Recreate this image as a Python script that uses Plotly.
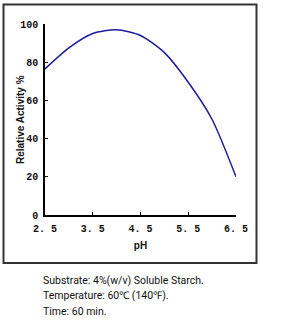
import plotly.graph_objects as go

ph = [2.5, 3.0, 3.5, 4.0, 4.5, 5.0, 5.5, 6.0, 6.5]
activity = [76.5, 87.5, 95, 97, 94, 85, 69.5, 50, 20]
x_ticks = [2.5, 3.5, 4.5, 5.5, 6.5]
x_tick_labels = ["2. 5", "3. 5", "4. 5", "5. 5", "6. 5"]
y_ticks = [0, 20, 40, 60, 80, 100]
notes = ["Substrate: 4%(w/v) Soluble Starch.",
         "Temperature: 60℃ (140℉).",
         "Time: 60 min."]

W, H = 281, 327
fig = go.Figure()
fig.add_trace(go.Scatter(x=ph, y=activity, mode="lines",
                         line=dict(color="#1c1c9c", width=1.5, shape="spline", smoothing=0.7),
                         showlegend=False, hoverinfo="skip"))

tf = dict(family="Liberation Mono", size=10, color="#111", weight="bold")
fig.update_layout(
    width=W, height=H, margin=dict(l=0, r=0, t=0, b=0, autoexpand=False),
    paper_bgcolor="white", plot_bgcolor="white",
    xaxis=dict(domain=[45/W, 236/W], range=[2.5, 6.5], tickvals=x_ticks, ticktext=x_tick_labels,
               showline=True, linecolor="black", linewidth=1.5, ticks="inside", ticklen=3,
               tickcolor="black", showgrid=False, zeroline=False, tickfont=tf, automargin=False,
               ticklabelstandoff=3,
               title=dict(text="<b>pH</b>", font=dict(family="Liberation Sans", size=10, color="#111"), standoff=8)),
    yaxis=dict(domain=[(H-215)/H, (H-24)/H], range=[0, 100], tickvals=y_ticks,
               showline=True, linecolor="black", linewidth=1.5, ticks="inside", ticklen=3,
               tickcolor="black", showgrid=False, zeroline=False, tickfont=tf, automargin=False,
               ticklabelstandoff=3),
)

fig.add_annotation(text="<b>Relative Activity %</b>", xref="paper", yref="paper",
                   x=20/W, y=(H-120)/H, textangle=-90, showarrow=False,
                   xanchor="center", yanchor="middle",
                   font=dict(family="Liberation Sans", size=10, color="#111"))

fig.add_shape(type="rect", xref="paper", yref="paper",
              x0=3.5/W, x1=256.5/W, y0=(H-263)/H, y1=(H-4.5)/H,
              line=dict(color="#333", width=2), fillcolor="rgba(0,0,0,0)")

for i, t in enumerate(notes):
    fig.add_annotation(text=t, xref="paper", yref="paper", x=41/W, y=(H-(280+15.5*i))/H,
                       xanchor="left", yanchor="middle", showarrow=False,
                       font=dict(family="Roboto", size=10.5, color="#111"))

fig.write_html("out.html")
